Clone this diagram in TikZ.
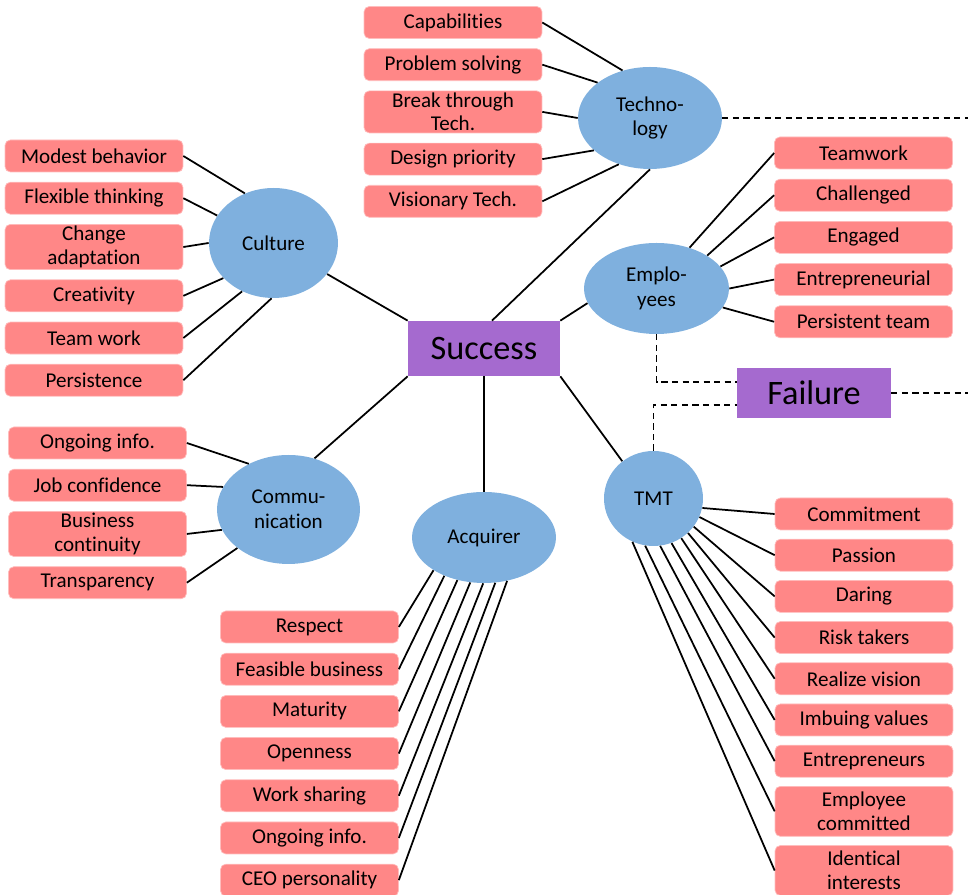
\documentclass[tikz,border=0pt]{standalone}
\usepackage{fontspec}
\setmainfont{Carlito}[Ligatures=NoCommon]
\usetikzlibrary{shapes.geometric,positioning}
\definecolor{leafpink}{RGB}{255,135,135}
\definecolor{hubblue}{RGB}{127,176,222}
\definecolor{keypurple}{RGB}{165,106,207}

\begin{document}
\begin{tikzpicture}[x=0.02cm,y=0.02cm,node distance=0.19cm]
				\tikzstyle{leaf}=[rectangle, rounded corners=3pt, fill=leafpink, draw=leafpink!55!white, line width=0.4pt, minimum width=3.56cm, minimum height=0.64cm, inner sep=1pt, align=center, font=\fontsize{12}{13.5}\selectfont]
				\tikzstyle{hub}=[ellipse, fill=hubblue, inner sep=0pt, align=center, font=\fontsize{12}{14}\selectfont]
				\tikzstyle{key}=[rectangle, fill=keypurple, font=\fontsize{19.5}{22}\selectfont]
				\tikzstyle{link}=[line width=1pt]
				\tikzstyle{dashlink}=[line width=1pt, dash pattern=on 3.5pt off 2.5pt]
				\useasboundingbox (0,0) rectangle (968,895);
				%Centre
				\node[key, minimum width=3.04cm, minimum height=1.1cm](success) at (484,546.5){Success};
				\node[key, minimum width=3.08cm, minimum height=1cm](failure) at (814,502){Failure};
				%Technology
				\node[hub, minimum width=2.88cm, minimum height=2.04cm](tech) at (650,777){Techno-\\logy};
				\node[leaf](cap) at (453,872.5){Capabilities};
				\node[leaf](prob)[below=of cap]{Problem solving};
				\node[leaf](brk)[below=of prob]{Break through\\Tech.};
				\node[leaf](dsgn)[below=of brk]{Design priority};
				\node[leaf](vis)[below=of dsgn]{Visionary Tech.};
				%Culture
				\node[hub, minimum width=2.58cm, minimum height=2.2cm](cult) at (273.5,652){Culture};
				\node[leaf](modest) at (94,739){Modest behavior};
				\node[leaf](flex)[below=of modest]{Flexible thinking};
				\node[leaf](chng)[below=of flex]{Change\\adaptation};
				\node[leaf](creat)[below=of chng]{Creativity};
				\node[leaf](tmwork)[below=of creat]{Team work};
				\node[leaf](persist)[below=of tmwork]{Persistence};
				%Communication
				\node[hub, minimum width=2.86cm, minimum height=2.18cm](comm) at (288.5,385.5){Commu-\\nication};
				\node[leaf](ong1) at (97.5,452){Ongoing info.};
				\node[leaf](jobc)[below=of ong1]{Job confidence};
				\node[leaf](busc)[below=of jobc]{Business\\continuity};
				\node[leaf](trans)[below=of busc]{Transparency};
				%Acquirer
				\node[hub, minimum width=2.88cm, minimum height=1.82cm](acq) at (484,357.5){Acquirer};
				\node[leaf](resp) at (309.5,268){Respect};
				\node[leaf](feas)[below=of resp]{Feasible business};
				\node[leaf](mat)[below=of feas]{Maturity};
				\node[leaf](open)[below=of mat]{Openness};
				\node[leaf](wshare)[below=of open]{Work sharing};
				\node[leaf](ong2)[below=of wshare]{Ongoing info.};
				\node[leaf](ceo)[below=of ong2]{CEO personality};
				%Employees
				\node[hub, minimum width=2.9cm, minimum height=1.82cm](emp) at (656.5,606.5){Emplo-\\yees};
				\node[leaf](tmw) at (863.5,742){Teamwork};
				\node[leaf](chal)[below=of tmw]{Challenged};
				\node[leaf](eng)[below=of chal]{Engaged};
				\node[leaf](entr)[below=of eng]{Entrepreneurial};
				\node[leaf](pteam)[below=of entr]{Persistent team};
				%TMT
				\node[hub, minimum width=1.98cm, minimum height=1.9cm](tmt) at (653.5,396.5){TMT};
				\node[leaf](commit) at (864,381){Commitment};
				\node[leaf](pass)[below=0.17cm of commit]{Passion};
				\node[leaf](dar)[below=0.17cm of pass]{Daring};
				\node[leaf](risk)[below=0.17cm of dar]{Risk takers};
				\node[leaf](rvis)[below=0.17cm of risk]{Realize vision};
				\node[leaf](imb)[below=0.17cm of rvis]{Imbuing values};
				\node[leaf](entrs)[below=0.17cm of imb]{Entrepreneurs};
				\node[leaf](ecom)[below=0.17cm of entrs, minimum height=1cm]{Employee\\committed};
				\node[leaf](ident)[below=0.17cm of ecom, minimum height=1cm]{Identical\\interests};
				%Free ends
				\coordinate (techR) at (968,777);
				\coordinate (failR) at (968,502);
				%Spokes
				\draw[link] (success.74) -- (tech.south);
				\draw[link] (success.north west) -- (cult);
				\draw[link] (success.south west) -- (comm.63);
				\draw[link] (success) -- (acq);
				\draw[link] (success.north east) -- (emp.192);
				\draw[link] (success.south east) -- (tmt.130);
				%Technology links
				\draw[link] (cap.east) -- (tech.120);
				\draw[link] (prob.east) -- (tech.146);
				\draw[link] (brk.east) -- (tech.180);
				\draw[link] (dsgn.east) -- (tech.210);
				\draw[link] (vis.east) -- (tech.236);
				%Culture links
				\draw[link] (modest.east) -- (cult.120);
				\draw[link] (flex.east) -- (cult.154);
				\draw[link] (chng.east) -- (cult.180);
				\draw[link] (creat.east) -- (cult.215);
				\draw[link] (tmwork.east) -- (cult.237);
				\draw[link] (persist.east) -- (cult.268);
				%Communication links
				\draw[link] (ong1.east) -- (comm.131);
				\draw[link] (jobc.east) -- (comm.161);
				\draw[link] (busc.east) -- (comm.197);
				\draw[link] (trans.east) -- (comm.217);
				%Acquirer links
				\draw[link] (resp.east) -- (acq.213);
				\draw[link] (feas.east) -- (acq.224);
				\draw[link] (mat.east) -- (acq.238);
				\draw[link] (open.east) -- (acq.253);
				\draw[link] (wshare.east) -- (acq.269);
				\draw[link] (ong2.east) -- (acq.284);
				\draw[link] (ceo.east) -- (acq.298);
				%Employees links
				\draw[link] (emp.51) -- (tmw.west);
				\draw[link] (emp.33) -- (chal.west);
				\draw[link] (emp.19) -- (eng.west);
				\draw[link] (emp.0) -- (entr.west);
				\draw[link] (emp.344) -- (pteam.west);
				%TMT links
				\draw[link] (tmt.349) -- (commit.west);
				\draw[link] (tmt.338) -- (pass.west);
				\draw[link] (tmt.325) -- (dar.west);
				\draw[link] (tmt.315) -- (risk.west);
				\draw[link] (tmt.305) -- (rvis.west);
				\draw[link] (tmt.292) -- (imb.west);
				\draw[link] (tmt.278) -- (entrs.west);
				\draw[link] (tmt.260) -- (ecom.west);
				\draw[link] (tmt.244) -- (ident.west);
				%Failure links
				\draw[dashlink] (emp.south) |- (failure.172);
				\draw[dashlink] (tmt.north) |- (failure.189);
				\draw[dashlink] (failure.east) -- (failR);
				\draw[dashlink] (tech.east) -- (techR);
				\end{tikzpicture}
\end{document}
